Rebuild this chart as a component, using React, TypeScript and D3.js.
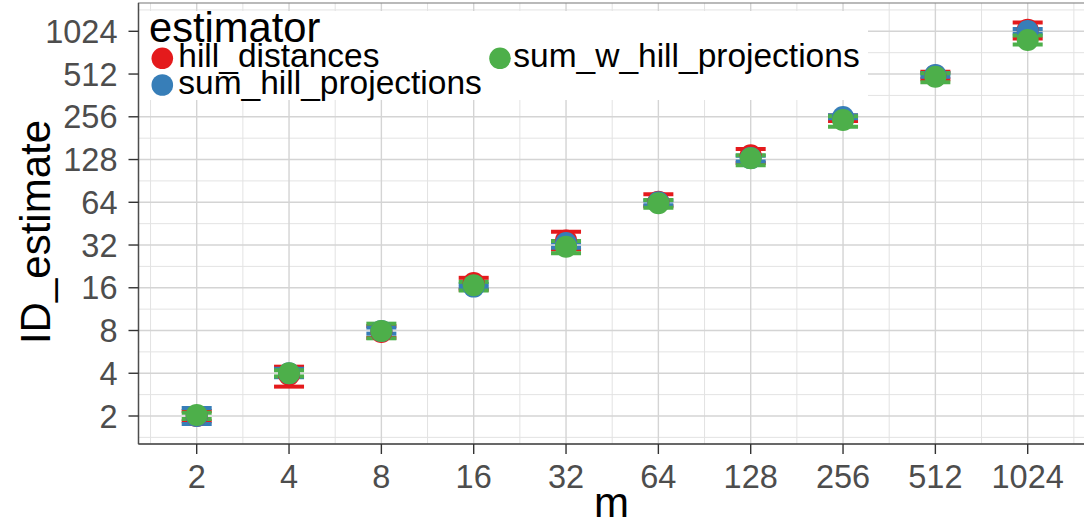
import React from "react";
import * as d3 from "d3";

const mValues = [2, 4, 8, 16, 32, 64, 128, 256, 512, 1024];
const tickLabels = ["2", "4", "8", "16", "32", "64", "128", "256", "512", "1024"];

const seriesNames = ["hill_distances", "sum_hill_projections", "sum_w_hill_projections"];
const seriesColors = ["#E41A1C", "#377EB8", "#4DAF4A"];

const hillMean = [2.0, 3.9, 7.8, 17.3, 34.5, 64.5, 137, 247, 500, 1050];
const hillLo = [1.84, 3.22, 7.1, 15.5, 29.8, 60, 121, 239, 470, 910];
const hillHi = [2.17, 4.45, 8.6, 18.8, 39.7, 72.9, 152, 261, 532, 1180];

const sumMean = [2.0, 4.0, 7.95, 16.3, 33, 64, 131, 255, 505, 1030];
const sumLo = [1.76, 3.75, 7.6, 16.0, 30.6, 61, 124, 250, 490, 985];
const sumHi = [2.28, 4.3, 8.4, 17.0, 33.5, 66, 136, 262, 520, 1065];

const wMean = [2.03, 4.0, 7.94, 16.7, 31.1, 63, 130.7, 243, 491, 890];
const wLo = [1.905, 3.8, 7.05, 15.3, 28, 58.5, 116.6, 218, 449, 826];
const wHi = [2.11, 4.2, 8.94, 17.6, 34.1, 66.5, 137, 258, 518, 956];

const means = [hillMean, sumMean, wMean];
const los = [hillLo, sumLo, wLo];
const his = [hillHi, sumHi, wHi];

const W = 1084;
const H = 522;
const panel = { left: 138.5, right: 1090, top: 3, bottom: 444 };

export default function App() {
  const x = d3.scaleLog().base(2).domain([2, 1024]).range([196.7, 1027.7]);
  const y = d3.scaleLog().base(2).domain([2, 1024]).range([416, 31.3]);

  const majors = d3.range(1, 11).map((k) => Math.pow(2, k));
  const minors = d3.range(0, 11).map((k) => Math.pow(2, k + 0.5));

  const font = "'Liberation Sans', Arial, sans-serif";
  const capHalf = 15;
  const r = 11;

  return (
    <svg width={W} height={H} style={{ position: "absolute", left: 0, top: 0 }}>
      <rect x={0} y={0} width={W} height={H} fill="#fff" />
      <defs>
        <clipPath id="pclip">
          <rect x={panel.left} y={panel.top} width={panel.right - panel.left} height={panel.bottom - panel.top} />
        </clipPath>
      </defs>
      <g clipPath="url(#pclip)">
        {minors.map((v, i) => (
          <g key={"mn" + i}>
            <line x1={x(v)} x2={x(v)} y1={panel.top} y2={panel.bottom} stroke="#e3e3e3" strokeWidth={1} />
            <line x1={panel.left} x2={panel.right} y1={y(v)} y2={y(v)} stroke="#e3e3e3" strokeWidth={1} />
          </g>
        ))}
        {majors.map((v, i) => (
          <g key={"mj" + i}>
            <line x1={x(v)} x2={x(v)} y1={panel.top} y2={panel.bottom} stroke="#d4d4d4" strokeWidth={1.4} />
            <line x1={panel.left} x2={panel.right} y1={y(v)} y2={y(v)} stroke="#d4d4d4" strokeWidth={1.4} />
          </g>
        ))}
        {means.map((ser, s) =>
          mValues.map((m, i) => {
            const cx = x(m);
            return (
              <g key={"eb" + s + "-" + i} stroke={seriesColors[s]} strokeWidth={4}>
                <line x1={cx} x2={cx} y1={y(los[s][i])} y2={y(his[s][i])} />
                <line x1={cx - capHalf} x2={cx + capHalf} y1={y(los[s][i])} y2={y(los[s][i])} />
                <line x1={cx - capHalf} x2={cx + capHalf} y1={y(his[s][i])} y2={y(his[s][i])} />
              </g>
            );
          })
        )}
        {means.map((ser, s) =>
          mValues.map((m, i) => (
            <circle key={"pt" + s + "-" + i} cx={x(m)} cy={y(ser[i])} r={r} fill={seriesColors[s]} />
          ))
        )}
        {/* legend box */}
        <rect x={panel.left} y={11} width={868 - panel.left} height={89} fill="#fff" />
      </g>
      {/* panel border */}
      <rect x={panel.left} y={panel.top} width={panel.right - panel.left} height={panel.bottom - panel.top} fill="none" stroke="#8c8c8c" strokeWidth={1.2} />
      {/* axis lines */}
      <line x1={panel.left} x2={panel.left} y1={panel.top} y2={panel.bottom} stroke="#4d4d4d" strokeWidth={1.4} />
      <line x1={panel.left} x2={panel.right} y1={panel.bottom} y2={panel.bottom} stroke="#4d4d4d" strokeWidth={1.4} />
      {/* ticks and labels */}
      {mValues.map((m, i) => (
        <g key={"xt" + i}>
          <line x1={x(m)} x2={x(m)} y1={panel.bottom} y2={panel.bottom + 10} stroke="#333" strokeWidth={1.4} />
          <text x={x(m)} y={488} textAnchor="middle" fontFamily={font} fontSize={32.5} fill="#4d4d4d">
            {tickLabels[i]}
          </text>
        </g>
      ))}
      {mValues.map((m, i) => (
        <g key={"yt" + i}>
          <line x1={panel.left - 10} x2={panel.left} y1={y(m)} y2={y(m)} stroke="#333" strokeWidth={1.4} />
          <text x={117.5} y={y(m) + 11.6} textAnchor="end" fontFamily={font} fontSize={32.5} fill="#4d4d4d">
            {tickLabels[i]}
          </text>
        </g>
      ))}
      {/* axis titles */}
      <text x={611.5} y={517} textAnchor="middle" fontFamily={font} fontSize={42} fill="#000">
        m
      </text>
      <text
        transform={`translate(50,232) rotate(-90)`}
        textAnchor="middle"
        fontFamily={font}
        fontSize={42}
        fill="#000"
      >
        ID_estimate
      </text>
      {/* legend */}
      <text x={149} y={41.7} fontFamily={font} fontSize={41.7} fill="#000">
        estimator
      </text>
      {[
        { s: 0, cx: 162.3, cy: 58.3, tx: 178.3 },
        { s: 1, cx: 162.3, cy: 85, tx: 178.3 },
        { s: 2, cx: 500, cy: 58.3, tx: 513.3 },
      ].map((k) => (
        <g key={"lg" + k.s}>
          <circle cx={k.cx} cy={k.cy} r={10.8} fill={seriesColors[k.s]} />
          <text x={k.tx} y={k.cy + 8.6} fontFamily={font} fontSize={33.5} fill="#000">
            {seriesNames[k.s]}
          </text>
        </g>
      ))}
    </svg>
  );
}
